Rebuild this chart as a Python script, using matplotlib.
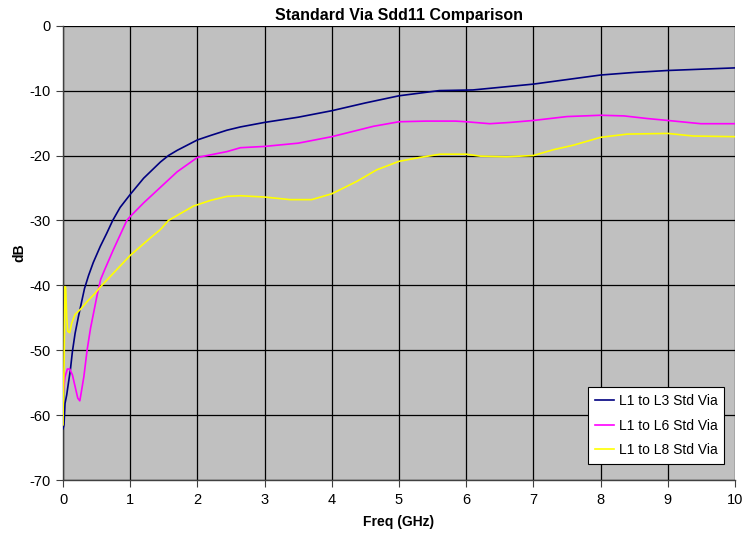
import matplotlib
matplotlib.use("Agg")
import matplotlib.pyplot as plt

title = "Standard Via Sdd11 Comparison"
xlabel = "Freq (GHz)"
ylabel = "dB"
series_names = ["L1 to L3 Std Via", "L1 to L6 Std Via", "L1 to L8 Std Via"]
series_colors = ["#000080", "#FF00FF", "#FFFF00"]

f_l3 = [0, 0.015, 0.03, 0.055, 0.08, 0.11, 0.14, 0.18, 0.23, 0.28, 0.32, 0.38,
        0.45, 0.555, 0.65, 0.74, 0.85, 1.0, 1.2, 1.45, 1.57, 1.7, 2.0, 2.2, 2.44,
        2.64, 3.0, 3.5, 4.0, 4.5, 5.0, 5.6, 6.1, 6.5, 7.0, 7.5, 8.0, 8.5, 9.0,
        9.5, 10.0]
db_l3 = [-62.1, -61.5, -58.2, -56.9, -55.1, -53.0, -50.2, -47.4, -44.8, -42.4,
         -40.5, -38.5, -36.5, -34.0, -32.0, -30.0, -28.0, -26.0, -23.5, -21.0,
         -20.0, -19.2, -17.6, -16.9, -16.1, -15.6, -14.9, -14.1, -13.1, -11.9,
         -10.8, -10.0, -9.9, -9.5, -9.0, -8.3, -7.6, -7.2, -6.9, -6.7, -6.5]

f_l6 = [0, 0.005, 0.03, 0.065, 0.1, 0.14, 0.18, 0.22, 0.25, 0.27, 0.31, 0.36,
        0.41, 0.46, 0.51, 0.56, 0.62, 0.75, 0.95, 1.0, 1.2, 1.45, 1.7, 2.0, 2.44,
        2.64, 3.0, 3.5, 4.0, 4.62, 5.0, 5.4, 5.84, 6.0, 6.35, 6.66, 7.0, 7.5, 8.0,
        8.35, 8.69, 9.0, 9.49, 10.0]
db_l6 = [-56.4, -56.4, -54.1, -52.9, -52.9, -53.8, -55.6, -57.4, -57.8, -56.6,
         -54.1, -49.9, -46.6, -44.0, -41.4, -39.1, -37.6, -34.5, -30.0, -29.4,
         -27.3, -24.9, -22.5, -20.3, -19.4, -18.8, -18.6, -18.1, -17.1, -15.5,
         -14.8, -14.7, -14.7, -14.8, -15.1, -14.9, -14.6, -14.0, -13.8, -13.9,
         -14.3, -14.6, -15.1, -15.1]

f_l8 = [0, 0.006, 0.016, 0.03, 0.04, 0.055, 0.07, 0.1, 0.13, 0.18, 0.26, 0.36,
        0.48, 0.56, 0.68, 0.78, 1.0, 1.3, 1.45, 1.57, 1.94, 2.2, 2.44, 2.64, 3.0,
        3.38, 3.7, 4.0, 4.37, 4.67, 5.0, 5.31, 5.61, 6.0, 6.21, 6.6, 7.0, 7.3,
        7.6, 8.0, 8.4, 9.0, 9.38, 10.0]
db_l8 = [-61.5, -56.6, -52.5, -40.2, -40.4, -44.8, -47.1, -47.3, -45.8, -44.5,
         -43.7, -42.5, -41.2, -40.2, -38.9, -37.8, -35.4, -32.7, -31.4, -30.0,
         -27.8, -26.9, -26.3, -26.2, -26.4, -26.8, -26.8, -25.9, -24.0, -22.2,
         -20.9, -20.3, -19.8, -19.8, -20.1, -20.2, -20.0, -19.1, -18.4, -17.2,
         -16.7, -16.6, -17.0, -17.1]

x_ticks = list(range(0, 11))
y_ticks = list(range(-70, 1, 10))

plt.rcParams['font.family'] = ['Liberation Sans', 'DejaVu Sans']
plt.rcParams['axes.unicode_minus'] = False

fig = plt.figure(figsize=(7.51, 5.35), dpi=100)
ax = fig.add_axes([63 / 751, 1 - 480 / 535, 672 / 751, (480 - 25.7) / 535])
ax.set_facecolor("#C0C0C0")

for fx, dbv, name, col in zip([f_l3, f_l6, f_l8], [db_l3, db_l6, db_l8],
                              series_names, series_colors):
    ax.plot(fx, dbv, color=col, lw=1.2, label=name, zorder=3)

ax.set_xlim(0, 10)
ax.set_ylim(-70, 0)
ax.set_xticks(x_ticks)
ax.set_yticks(y_ticks)
ax.grid(True, color="black", lw=0.9, zorder=1)
ax.set_axisbelow(True)
for s in ["top", "right"]:
    ax.spines[s].set_visible(False)
for s in ["left", "bottom"]:
    ax.spines[s].set_color("#404040")
    ax.spines[s].set_linewidth(1.0)
ax.tick_params(axis="both", direction="out", length=5, width=0.8,
               colors="#404040", labelcolor="black", labelsize=10.5)
ax.tick_params(axis="x", pad=4)
ax.tick_params(axis="y", pad=4)

ax.set_title(title, fontsize=11.5, fontweight="bold", pad=4)
ax.set_xlabel(xlabel, fontsize=10, fontweight="bold", labelpad=6)
ax.set_ylabel(ylabel, fontsize=10, fontweight="bold", labelpad=2)

leg = ax.legend(loc="lower right", bbox_to_anchor=(0.984, 0.035), fontsize=10,
                frameon=True, fancybox=False, framealpha=1, edgecolor="black",
                handlelength=1.4, borderpad=0.5, labelspacing=0.75,
                handletextpad=0.3, borderaxespad=0)
leg.get_frame().set_linewidth(0.8)

fig.savefig("out.png", dpi=100, facecolor="white")
